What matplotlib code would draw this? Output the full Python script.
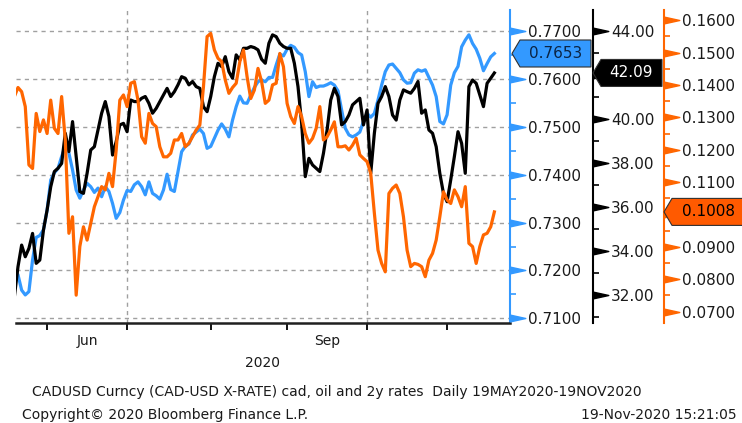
import numpy as np
import pandas as pd
import matplotlib
matplotlib.use("Agg")
import matplotlib.pyplot as plt
from matplotlib.path import Path
from matplotlib.patches import Polygon
from matplotlib.transforms import blended_transform_factory, IdentityTransform
from matplotlib.ticker import MultipleLocator, NullFormatter, FuncFormatter

dates = pd.bdate_range("2020-05-19", "2020-11-19")

# CADUSD spot (left-most right axis)
cad = [0.7201, 0.7191, 0.7159, 0.7149, 0.7156, 0.7222, 0.7269, 0.7273, 0.7285, 0.7326,
       0.7389, 0.7404, 0.7413, 0.7438, 0.7459, 0.7445, 0.7410, 0.7368, 0.7351, 0.7368,
       0.7382, 0.7375, 0.7363, 0.7372, 0.7354, 0.7375, 0.7365, 0.7340, 0.7309, 0.7321,
       0.7347, 0.7367, 0.7365, 0.7379, 0.7385, 0.7375, 0.7358, 0.7385, 0.7361, 0.7356,
       0.7349, 0.7368, 0.7401, 0.7369, 0.7365, 0.7406, 0.7448, 0.7459, 0.7464, 0.7483,
       0.7489, 0.7495, 0.7486, 0.7455, 0.7459, 0.7476, 0.7493, 0.7506, 0.7495, 0.7479,
       0.7514, 0.7542, 0.7564, 0.7550, 0.7549, 0.7566, 0.7582, 0.7594, 0.7598, 0.7594,
       0.7603, 0.7603, 0.7629, 0.7652, 0.7648, 0.7662, 0.7670, 0.7666, 0.7655, 0.7650,
       0.7615, 0.7563, 0.7594, 0.7582, 0.7585, 0.7585, 0.7588, 0.7592, 0.7587, 0.7575,
       0.7535, 0.7497, 0.7483, 0.7479, 0.7483, 0.7489, 0.7511, 0.7528, 0.7520, 0.7528,
       0.7556, 0.7587, 0.7615, 0.7629, 0.7631, 0.7622, 0.7613, 0.7598, 0.7591, 0.7592,
       0.7612, 0.7619, 0.7616, 0.7619, 0.7603, 0.7587, 0.7563, 0.7511, 0.7506, 0.7525,
       0.7587, 0.7613, 0.7626, 0.7667, 0.7681, 0.7692, 0.7674, 0.7662, 0.7643, 0.7617,
       0.7632, 0.7646, 0.7653]

# oil (middle axis)
oil = [31.92, 33.29, 34.27, 33.74, 34.12, 34.80, 33.44, 33.59, 34.95, 35.86,
       36.92, 37.61, 37.76, 37.98, 39.35, 38.52, 39.88, 38.29, 36.70, 36.62,
       37.53, 38.59, 38.74, 39.50, 40.26, 40.79, 40.11, 38.36, 38.97, 39.73,
       39.80, 39.42, 40.86, 40.79, 40.79, 40.94, 41.02, 40.71, 40.26, 40.48,
       40.79, 41.09, 41.39, 41.02, 41.24, 41.55, 41.92, 41.85, 41.55, 41.70,
       41.47, 41.39, 40.56, 40.33, 41.02, 41.92, 42.53, 42.38, 42.83, 42.15,
       41.85, 42.91, 42.68, 43.21, 43.21, 43.29, 43.24, 43.14, 42.71, 42.53,
       43.44, 43.82, 43.74, 43.44, 43.29, 43.21, 43.21, 42.53, 41.47, 39.80,
       37.38, 38.21, 37.91, 37.76, 37.61, 38.44, 39.50, 40.86, 41.39, 41.02,
       39.73, 39.88, 40.18, 40.64, 40.79, 40.94, 39.73, 40.41, 37.53, 39.35,
       40.71, 41.02, 41.47, 41.02, 40.18, 39.95, 40.86, 41.32, 41.24, 41.17,
       41.39, 41.70, 40.26, 40.41, 39.50, 39.35, 38.74, 37.53, 36.62, 36.24,
       37.23, 38.29, 39.42, 38.89, 37.53, 41.47, 41.77, 41.62, 41.09, 40.56,
       41.62, 41.85, 42.09]

# 2y rate (outer axis)
rate2y = [0.1364, 0.1392, 0.1379, 0.1333, 0.1153, 0.1142, 0.1312, 0.1256, 0.1292, 0.1250,
          0.1353, 0.1266, 0.1250, 0.1364, 0.1230, 0.0942, 0.0993, 0.0751, 0.0901, 0.0962,
          0.0921, 0.0973, 0.1024, 0.1055, 0.1086, 0.1076, 0.1127, 0.1086, 0.1199, 0.1353,
          0.1369, 0.1333, 0.1405, 0.1410, 0.1353, 0.1240, 0.1220, 0.1312, 0.1281, 0.1271,
          0.1209, 0.1178, 0.1178, 0.1189, 0.1230, 0.1230, 0.1250, 0.1209, 0.1220, 0.1240,
          0.1261, 0.1276, 0.1394, 0.1549, 0.1559, 0.1508, 0.1482, 0.1472, 0.1415, 0.1374,
          0.1392, 0.1405, 0.1472, 0.1508, 0.1425, 0.1358, 0.1384, 0.1451, 0.1410, 0.1343,
          0.1353, 0.1400, 0.1405, 0.1497, 0.1456, 0.1343, 0.1302, 0.1281, 0.1333, 0.1302,
          0.1250, 0.1220, 0.1235, 0.1266, 0.1333, 0.1230, 0.1240, 0.1261, 0.1286, 0.1209,
          0.1209, 0.1212, 0.1199, 0.1214, 0.1235, 0.1184, 0.1173, 0.1163, 0.1127, 0.1004,
          0.0890, 0.0849, 0.0823, 0.1065, 0.1081, 0.1091, 0.1065, 0.0993, 0.0890, 0.0839,
          0.0849, 0.0846, 0.0839, 0.0808, 0.0859, 0.0880, 0.0921, 0.0993, 0.1070, 0.1045,
          0.1034, 0.1076, 0.1055, 0.1024, 0.1086, 0.0911, 0.0901, 0.0849, 0.0901, 0.0937,
          0.0942, 0.0962, 0.1008]

month_labels = {"Jun": 6, "Sep": 9}
footer1 = "CADUSD Curncy (CAD-USD X-RATE) cad, oil and 2y rates  Daily 19MAY2020-19NOV2020"
footer2 = "Copyright\u00a9 2020 Bloomberg Finance L.P."
stamp = "19-Nov-2020 15:21:05"

BLUE = "#3399ff"
ORANGE = "#ff6600"
GRID = "#a0a0a0"
TXT = "#1a1a1a"

W, H = 742, 423
fig = plt.figure(figsize=(W / 100, H / 100), dpi=100)
ax = fig.add_axes([16 / W, 1 - 323 / H, (510 - 16) / W, (323 - 10) / H])
ax_oil = ax.twinx()
ax_rate = ax.twinx()

x = np.arange(len(dates))
ax.plot(x, cad, color=BLUE, lw=2.3, zorder=3)
ax_oil.plot(x, oil, color="black", lw=2.3, zorder=3)
ax_rate.plot(x, rate2y, color=ORANGE, lw=2.3, zorder=3)

ax.set_xlim(0.45, 136.3)
ax.set_ylim(0.70904, 0.77438)
ax_oil.set_ylim(30.73, 44.95)
ax_rate.set_ylim(0.06651, 0.16312)

# month ticks on x
month_starts = [int(np.searchsorted(dates, pd.Timestamp(2020, m, 1))) for m in range(6, 12)]
ax.set_xticks(month_starts)
ax.set_xticklabels([])
ax.tick_params(axis="x", which="major", length=5, width=1.3, color="black", direction="out")
mids = []
for name, m in month_labels.items():
    a = np.searchsorted(dates, pd.Timestamp(2020, m, 1))
    b = np.searchsorted(dates, pd.Timestamp(2020, m + 1, 1))
    mids.append((a + b) / 2)
ax.set_xticks(mids, minor=True)
ax.set_xticklabels(list(month_labels.keys()), minor=True, fontsize=10, color=TXT)
ax.tick_params(axis="x", which="minor", length=0, pad=8)
ax.text(0.5, -0.128, "2020", transform=ax.transAxes, ha="center", va="center",
        fontsize=10, color=TXT)

# grid
ax.set_axisbelow(True)
ax.yaxis.set_major_locator(MultipleLocator(0.01))
ax.grid(axis="y", color=GRID, ls=(0, (3, 3)), lw=1)
for q in (7, 10):
    ax.axvline(np.searchsorted(dates, pd.Timestamp(2020, q, 1)), color=GRID,
               ls=(0, (3, 3)), lw=1, zorder=1)

# spines
for s in ("left", "top"):
    ax.spines[s].set_visible(False)
ax.spines["bottom"].set_color("#202020")
ax.spines["bottom"].set_linewidth(1.8)
ax.spines["right"].set_color(BLUE)
ax.spines["right"].set_linewidth(1.5)
for a, pos, col in ((ax_oil, 1.168, "black"), (ax_rate, 1.312, ORANGE)):
    for s in ("left", "top", "bottom"):
        a.spines[s].set_visible(False)
    a.spines["right"].set_position(("axes", pos))
    a.spines["right"].set_color(col)
    a.spines["right"].set_linewidth(1.5)

arrow = Path([(0, -0.22), (1, 0), (0, 0.22), (0, -0.22)],
             [Path.MOVETO, Path.LINETO, Path.LINETO, Path.CLOSEPOLY])


def style_axis(a, xpos, step, minor, nd, col, last, hide):
    # labels sitting under the last-value tag are hidden, as on the terminal
    def fmt(v, pos):
        if hide and abs(v - last) < hide:
            return ""
        return f"{v:.{nd}f}"
    a.yaxis.set_major_locator(MultipleLocator(step))
    a.yaxis.set_minor_locator(MultipleLocator(minor))
    a.yaxis.set_major_formatter(FuncFormatter(fmt))
    a.yaxis.set_minor_formatter(NullFormatter())
    a.tick_params(axis="y", which="major", length=0, pad=13, labelsize=11,
                  labelcolor=TXT, left=False, labelleft=False, right=True, labelright=True)
    a.tick_params(axis="y", which="minor", length=4, width=1.2, color=col,
                  direction="out", left=False, right=True)
    lo, hi = a.get_ylim()
    ticks = [t for t in a.yaxis.get_majorticklocs() if lo <= t <= hi]
    tr = blended_transform_factory(a.transAxes, a.transData)
    a.plot([xpos] * len(ticks), ticks, ls="none", marker=arrow, ms=22,
           color=col, transform=tr, clip_on=False, zorder=4)


style_axis(ax, 1.0, 0.01, 0.005, 4, BLUE, cad[-1], 0)
style_axis(ax_oil, 1.168, 2, 1, 2, "black", oil[-1], 0.6)
style_axis(ax_rate, 1.312, 0.01, 0.005, 4, ORANGE, rate2y[-1], 0.004)


# last-value tags
def tag(a, value, xl, xr, fill, tcol, text):
    y = a.transData.transform((0, value))[1]
    h, n = 13.5, 8
    poly = Polygon([(xl, y), (xl + n, y + h), (xr, y + h), (xr, y - h), (xl + n, y - h)],
                   closed=True, facecolor=fill, edgecolor="#303030", lw=0.8,
                   transform=IdentityTransform(), zorder=10)
    fig.add_artist(poly)
    fig.text((xl + n + xr) / 2 / W, y / H, text, ha="center", va="center",
             fontsize=11, color=tcol, zorder=11)


tag(ax, cad[-1], 512, 591, BLUE, "#0b2545", f"{cad[-1]:.4f}")
tag(ax_oil, oil[-1], 593, 662, "black", "white", f"{oil[-1]:.2f}")
tag(ax_rate, rate2y[-1], 664, 745, "#ff5a00", "black", f"{rate2y[-1]:.4f}")

fig.text(32 / W, 1 - 392 / H, footer1, ha="left", va="center", fontsize=10, color=TXT)
fig.text(22 / W, 1 - 415 / H, footer2, ha="left", va="center", fontsize=10, color=TXT)
fig.text(737 / W, 1 - 415 / H, stamp, ha="right", va="center", fontsize=10, color=TXT)

fig.savefig("out.png", dpi=100)
